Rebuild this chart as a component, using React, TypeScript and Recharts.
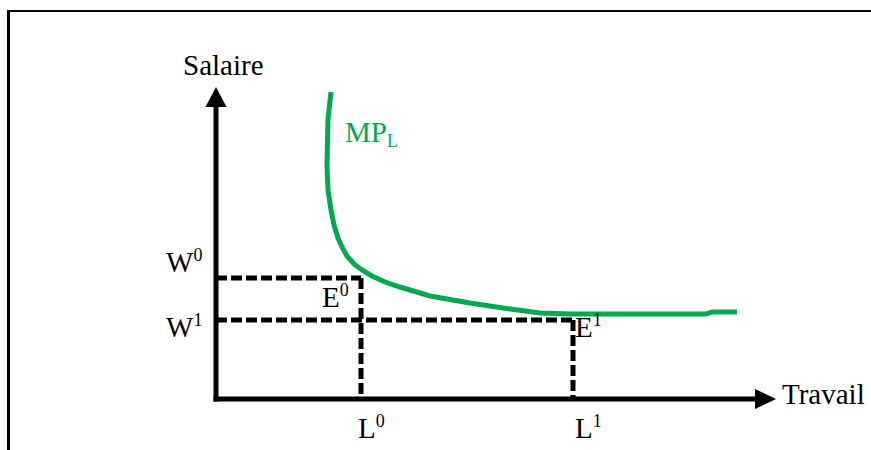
import React from "react";
import {
  Line,
  LineChart,
  ReferenceDot,
  ReferenceLine,
  XAxis,
  YAxis,
} from "recharts";

// Labour demand curve (MP_L): labour L vs wage W.
const curveL = [
  11.5, 11.2, 11.1, 11.2, 11.5, 11.8, 12.2, 12.6, 13.1, 13.8, 14.6, 15.6, 16.9,
  18.4, 21.4, 25.4, 29.4, 32.4, 35.4, 40.4, 46.4, 49.0, 49.6, 52.1,
];
const curveW = [
  30.7, 28.0, 23.4, 20.9, 18.9, 17.4, 16.1, 15.2, 14.3, 13.5, 12.9, 12.3, 11.7,
  11.2, 10.3, 9.6, 9.0, 8.6, 8.5, 8.5, 8.5, 8.5, 8.7, 8.7,
];

// Equilibria E0 (L0, W0) and E1 (L1, W1)
const wages = [12.1, 7.9];
const labour = [14.5, 35.7];
const eqIndex = ["0", "1"];

const L_MAX = 56;
const W_MAX = 31.2;
const ARROW = 2.1; // length of the arrow heads, in axis units

const axisTitles = ["Salaire", "Travail"];
const curveName = ["MP", "L"];

const GREEN = "#00A94F";
const FONT = "'Liberation Serif', 'Times New Roman', serif";

const data = curveL.map((l, i) => ({ l, w: curveW[i] }));

function Txt({
  cx,
  cy,
  dx,
  dy,
  main,
  sup,
  sub,
  color = "#000",
}: any) {
  return (
    <text
      x={cx + dx}
      y={cy + dy}
      fontFamily={FONT}
      fontSize={29}
      fill={color}
    >
      {main}
      {sup && (
        <tspan fontSize={18} dy={-11}>
          {sup}
        </tspan>
      )}
      {sub && (
        <tspan fontSize={18} dy={5}>
          {sub}
        </tspan>
      )}
    </text>
  );
}

const upArrow = (p: any) => (
  <polygon
    points={`${p.cx},${p.cy} ${p.cx - 10.5},${p.cy + 20} ${p.cx + 10.5},${p.cy + 20}`}
    fill="#000"
  />
);
const rightArrow = (p: any) => (
  <polygon
    points={`${p.cx},${p.cy} ${p.cx - 21},${p.cy - 10} ${p.cx - 21},${p.cy + 10}`}
    fill="#000"
  />
);

const dash = { stroke: "#000", strokeWidth: 5, strokeDasharray: "11 4" };

export default function App() {
  return (
    <div
      style={{
        position: "absolute",
        left: 0,
        top: 0,
        width: 871,
        height: 450,
        overflow: "hidden",
        background: "#fff",
      }}
    >
      <div
        style={{
          position: "absolute",
          left: 7,
          top: 10,
          width: 2000,
          height: 2000,
          borderLeft: "3px solid #000",
          borderTop: "2px solid #000",
        }}
      />
      <div style={{ position: "absolute", left: 0, top: 0 }}>
        <LineChart
          width={871}
          height={450}
          data={data}
          margin={{ top: 87, left: 216, right: 95, bottom: 51 }}
        >
          <XAxis
            type="number"
            dataKey="l"
            domain={[0, L_MAX]}
            hide
            allowDataOverflow
          />
          <YAxis type="number" domain={[0, W_MAX]} hide allowDataOverflow />

          {/* dashed guides to the equilibria */}
          {wages.map((w, i) => (
            <ReferenceLine
              key={`h${i}`}
              segment={[
                { x: 0, y: w },
                { x: labour[i], y: w },
              ]}
              {...dash}
              ifOverflow="visible"
            />
          ))}
          {wages.map((w, i) => (
            <ReferenceLine
              key={`v${i}`}
              segment={[
                { x: labour[i], y: w },
                { x: labour[i], y: 0 },
              ]}
              {...dash}
              ifOverflow="visible"
            />
          ))}

          {/* axes with arrow heads */}
          <ReferenceLine
            segment={[
              { x: 0, y: 0 },
              { x: 0, y: W_MAX - ARROW },
            ]}
            stroke="#000"
            strokeWidth={5}
            strokeLinecap="square"
            ifOverflow="visible"
          />
          <ReferenceLine
            segment={[
              { x: 0, y: 0 },
              { x: L_MAX - ARROW, y: 0 },
            ]}
            stroke="#000"
            strokeWidth={5}
            strokeLinecap="square"
            ifOverflow="visible"
          />
          <ReferenceDot x={0} y={W_MAX} r={0} shape={upArrow} ifOverflow="visible" />
          <ReferenceDot x={L_MAX} y={0} r={0} shape={rightArrow} ifOverflow="visible" />

          <Line
            type="linear"
            dataKey="w"
            stroke={GREEN}
            strokeWidth={5}
            dot={false}
            activeDot={false}
            isAnimationActive={false}
          />

          {/* texts */}
          <ReferenceDot
            x={0}
            y={W_MAX}
            r={0}
            ifOverflow="visible"
            shape={(p: any) => <Txt {...p} dx={-33} dy={-12} main={axisTitles[0]} />}
          />
          <ReferenceDot
            x={L_MAX}
            y={0}
            r={0}
            ifOverflow="visible"
            shape={(p: any) => <Txt {...p} dx={6} dy={5} main={axisTitles[1]} />}
          />
          <ReferenceDot
            x={curveL[0]}
            y={curveW[0]}
            r={0}
            ifOverflow="visible"
            shape={(p: any) => (
              <Txt {...p} dx={14} dy={50} main={curveName[0]} sub={curveName[1]} color={GREEN} />
            )}
          />
          {wages.map((w, i) => (
            <ReferenceDot
              key={`wl${i}`}
              x={0}
              y={w}
              r={0}
              ifOverflow="visible"
              shape={(p: any) => (
                <Txt {...p} dx={-50} dy={i === 0 ? -6 : 17} main="W" sup={eqIndex[i]} />
              )}
            />
          ))}
          {labour.map((l, i) => (
            <ReferenceDot
              key={`ll${i}`}
              x={l}
              y={0}
              r={0}
              ifOverflow="visible"
              shape={(p: any) => (
                <Txt {...p} dx={i === 0 ? -3 : 2} dy={39} main="L" sup={eqIndex[i]} />
              )}
            />
          ))}
          {labour.map((l, i) => (
            <ReferenceDot
              key={`el${i}`}
              x={l}
              y={wages[i]}
              r={0}
              ifOverflow="visible"
              shape={(p: any) => (
                <Txt {...p} dx={i === 0 ? -39 : 2} dy={i === 0 ? 29 : 17} main="E" sup={eqIndex[i]} />
              )}
            />
          ))}
        </LineChart>
      </div>
    </div>
  );
}
